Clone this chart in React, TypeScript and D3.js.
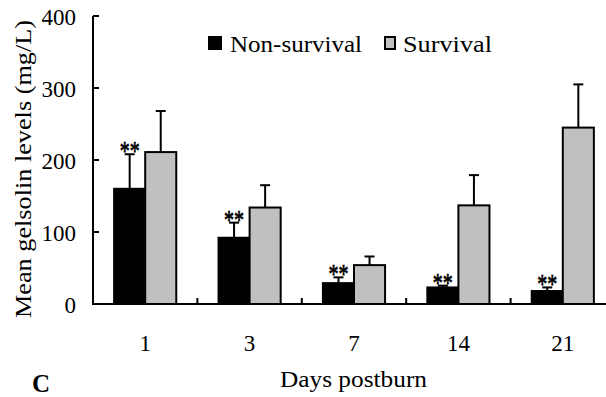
import React from "react";
import * as d3 from "d3";

const categories = ["1", "3", "7", "14", "21"];
const seriesNames = ["Non-survival", "Survival"];
const nonSurvival = [160, 92, 29, 23, 18];
const nonSurvivalSD = [48, 21, 8, 2.5, 5];
const survival = [211, 134, 54, 137, 245];
const survivalSD = [57, 31, 12, 42, 60];
const yTicks = [0, 100, 200, 300, 400];
const significance = ["**", "**", "**", "**", "**"];

const W = 606;
const H = 397;
const FONT = "'Liberation Serif', 'Times New Roman', serif";
const colors = ["#000000", "#c0c0c0"];

export default function App() {
  const x = d3.scaleBand<string>().domain(categories).range([93, 615]).padding(0);
  const x1 = d3
    .scaleBand<string>()
    .domain(seriesNames)
    .range([0, x.bandwidth()])
    .paddingInner(0)
    .paddingOuter(0.68);
  const y = d3.scaleLinear().domain([0, 400]).range([304, 16]);

  const series = [
    { name: seriesNames[0], values: nonSurvival, sd: nonSurvivalSD },
    { name: seriesNames[1], values: survival, sd: survivalSD },
  ];

  return (
    <svg
      width={W}
      height={H}
      style={{ position: "absolute", left: 0, top: 0, background: "#fff" }}
      fontFamily={FONT}
    >
      <rect x={0} y={0} width={W} height={H} fill="#fff" />
      {/* bars */}
      {series.map((s, si) =>
        categories.map((c, i) => {
          const bx = (x(c) ?? 0) + (x1(s.name) ?? 0);
          const bw = x1.bandwidth();
          const top = y(s.values[i]);
          const errTop = y(s.values[i] + s.sd[i]);
          const cx = bx + bw / 2;
          return (
            <g key={`${si}-${i}`}>
              <line x1={cx} x2={cx} y1={top} y2={errTop} stroke="#000" strokeWidth={2} />
              <line x1={cx - 5} x2={cx + 5} y1={errTop} y2={errTop} stroke="#000" strokeWidth={2} />
              <rect
                x={bx}
                y={top}
                width={bw}
                height={y(0) - top}
                fill={colors[si]}
                stroke="#000"
                strokeWidth={2}
              />
            </g>
          );
        })
      )}
      {/* significance */}
      {categories.map((c, i) => {
        const cx = (x(c) ?? 0) + (x1(seriesNames[0]) ?? 0) + x1.bandwidth() / 2;
        const errTop = y(nonSurvival[i] + nonSurvivalSD[i]);
        return (
          <text
            key={`s${i}`}
            x={cx}
            y={errTop + 6}
            textAnchor="middle"
            fontSize={27}
            textLength={20}
            lengthAdjust="spacingAndGlyphs"
            stroke="#000"
            strokeWidth={0.7}
            fill="#000"
          >
            {significance[i]}
          </text>
        );
      })}
      {/* y axis */}
      <line x1={93} x2={93} y1={y(400)} y2={y(0)} stroke="#000" strokeWidth={2} />
      {yTicks.map((t) => (
        <g key={`yt${t}`}>
          <line x1={93} x2={99} y1={y(t)} y2={y(t)} stroke="#000" strokeWidth={2} />
          <text x={76} y={y(t) + 9} textAnchor="end" fontSize={23} fill="#000">
            {t}
          </text>
        </g>
      ))}
      {/* x axis */}
      <line x1={92} x2={W} y1={y(0)} y2={y(0)} stroke="#000" strokeWidth={2} />
      {categories.map((c, i) =>
        i > 0 ? (
          <line
            key={`xt${c}`}
            x1={x(c)}
            x2={x(c)}
            y1={y(0)}
            y2={y(0) - 6}
            stroke="#000"
            strokeWidth={2}
          />
        ) : null
      )}
      {categories.map((c) => (
        <text
          key={`xl${c}`}
          x={(x(c) ?? 0) + x.bandwidth() / 2}
          y={351}
          textAnchor="middle"
          fontSize={23}
          fill="#000"
        >
          {c}
        </text>
      ))}
      <text
        x={353.5}
        y={387}
        textAnchor="middle"
        fontSize={23}
        textLength={147}
        lengthAdjust="spacingAndGlyphs"
        fill="#000"
      >
        Days postburn
      </text>
      <text
        transform={`translate(31,169) rotate(-90)`}
        textAnchor="middle"
        fontSize={23}
        textLength={298}
        lengthAdjust="spacingAndGlyphs"
        fill="#000"
      >
        Mean gelsolin levels (mg/L)
      </text>
      <text x={32} y={392} fontSize={25} fontWeight="bold" fill="#000">
        C
      </text>
      {/* legend */}
      <rect x={208} y={36} width={14} height={14} fill="#000" />
      <text
        x={230}
        y={52}
        fontSize={23}
        textLength={132}
        lengthAdjust="spacingAndGlyphs"
        fill="#000"
      >
        {seriesNames[0]}
      </text>
      <rect x={385} y={37} width={10} height={12} fill={colors[1]} stroke="#000" strokeWidth={2} />
      <text
        x={403}
        y={52}
        fontSize={23}
        textLength={89}
        lengthAdjust="spacingAndGlyphs"
        fill="#000"
      >
        {seriesNames[1]}
      </text>
    </svg>
  );
}
